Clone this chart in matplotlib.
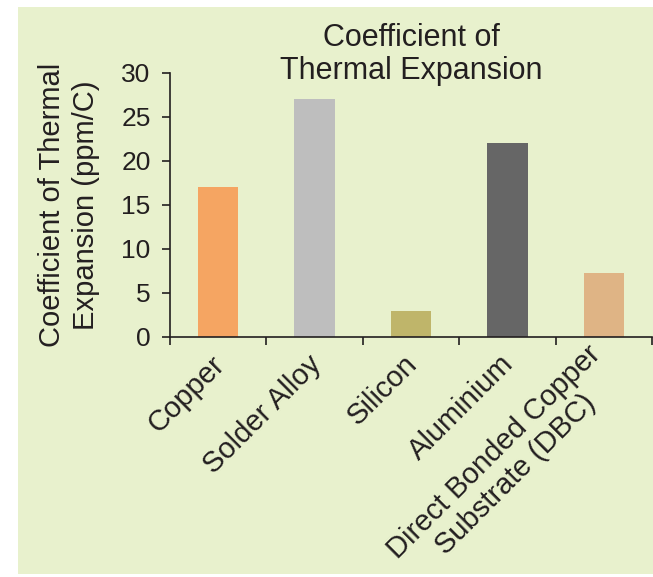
import numpy as np
import matplotlib.pyplot as plt
from matplotlib.patches import Rectangle
from matplotlib.ticker import FixedLocator


materials = ['Copper', 'Solder Alloy', 'Silicon', 'Aluminium',
             'Direct Bonded Copper\nSubstrate (DBC)']
cte_values = [17, 27, 3, 22, 7.3]          # ppm/C
bar_colors = ['#F5A562', '#BEBEBE', '#BFB56A', '#666666', '#DFB485']

y_ticks = [0, 5, 10, 15, 20, 25, 30]

ink = '#231F20'
panel = '#E8F1CD'


W, H = 653, 577
fig = plt.figure(figsize=(W / 100, H / 100), dpi=100)
fig.patch.set_facecolor('white')

# shaded panel behind the whole chart
fig.patches.append(Rectangle((18 / W, 3 / H), 1 - 18 / W, (574 - 7) / H,
                             transform=fig.transFigure, facecolor=panel,
                             edgecolor='none', zorder=-10))

ax = fig.add_axes([170 / W, 240 / H, 482 / W, 264 / H])
ax.set_facecolor('none')

x = np.arange(len(materials))
ax.bar(x, cte_values, width=0.42, color=bar_colors, zorder=2)

ax.set_xlim(-0.5, len(materials) - 0.5)
ax.set_ylim(0, 30)

for side in ['top', 'right']:
    ax.spines[side].set_visible(False)
for side in ['left', 'bottom']:
    ax.spines[side].set_linewidth(1.2)
    ax.spines[side].set_color(ink)

# category labels sit at bar centres, tick marks between categories
ax.set_xticks(x)
ax.set_xticklabels(materials, rotation=45, ha='right', va='center_baseline',
                   rotation_mode='anchor', fontsize=21, family='Liberation Sans',
                   color=ink, multialignment='center', linespacing=1.15)
ax.tick_params(axis='x', which='major', length=0, pad=15)
ax.xaxis.set_minor_locator(FixedLocator(np.arange(-0.5, len(materials), 1.0)))
ax.tick_params(axis='x', which='minor', length=6, width=1.2, color=ink, direction='out')

ax.set_yticks(y_ticks)
ax.set_yticklabels([str(t) for t in y_ticks], fontsize=19,
                   family='Liberation Sans', color=ink)
ax.tick_params(axis='y', length=6, width=1.2, color=ink, pad=8)

ax.set_ylabel('Coefficient of Thermal\nExpansion (ppm/C)', fontsize=21,
              family='Liberation Sans', color=ink, linespacing=1.25)
ax.yaxis.set_label_coords(-70 / 482, 0.5)

ax.text(0.5, 1 - 6 / 264, 'Coefficient of\nThermal Expansion', transform=ax.transAxes,
        ha='center', va='baseline', fontsize=22, family='Liberation Sans',
        color=ink, linespacing=1.12)

fig.savefig('out.png', dpi=100)
